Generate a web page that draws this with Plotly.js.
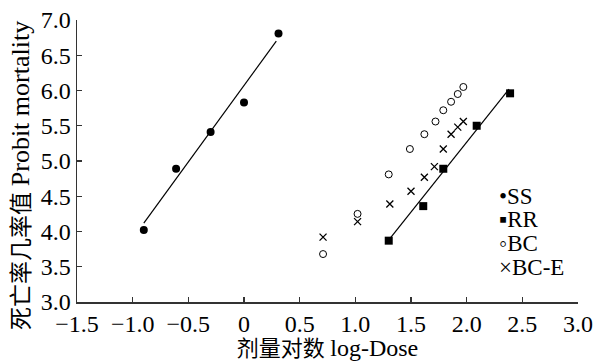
<!DOCTYPE html>
<html><head><meta charset="utf-8">
<script src="https://cdn.plot.ly/plotly-3.0.1.min.js"></script>
<style>html,body{margin:0;padding:0;background:#fff}</style>
</head><body>
<div id="chart" style="width:597px;height:361px"></div>
<script>
const ssX = [-0.9, -0.61, -0.3, 0.0, 0.31];
const ssY = [4.02, 4.89, 5.41, 5.83, 6.81];
const rrX = [1.3, 1.61, 1.79, 2.09, 2.39];
const rrY = [3.87, 4.36, 4.89, 5.50, 5.96];
const bcX = [0.71, 1.02, 1.30, 1.49, 1.62, 1.72, 1.79, 1.86, 1.92, 1.97];
const bcY = [3.68, 4.25, 4.81, 5.17, 5.38, 5.56, 5.72, 5.84, 5.95, 6.05];
const bceX = [0.71, 1.02, 1.31, 1.50, 1.62, 1.71, 1.79, 1.86, 1.92, 1.97];
const bceY = [3.92, 4.14, 4.39, 4.57, 4.77, 4.92, 5.17, 5.38, 5.48, 5.56];
const ssFitX = [-0.9, 0.29];
const ssFitY = [4.12, 6.70];
const rrFitX = [1.31, 2.38];
const rrFitY = [3.90, 6.02];
const xTicks = [-1.5, -1.0, -0.5, 0, 0.5, 1.0, 1.5, 2.0, 2.5, 3.0];
const xTickText = ['−1.5', '−1.0', '−0.5', '0', '0.5', '1.0', '1.5', '2.0', '2.5', '3.0'];
const yTicks = [3.0, 3.5, 4.0, 4.5, 5.0, 5.5, 6.0, 6.5, 7.0];
const yTickText = ['3.0', '3.5', '4.0', '4.5', '5.0', '5.5', '6.0', '6.5', '7.0'];
const legendNames = ['SS', 'RR', 'BC', 'BC-E'];
const legendGlyphs = ['•', '▪', '◦', '×'];
const xTitleCn = '剂量对数', xTitleEn = 'log-Dose';
const yTitleCn = '死亡率几率值', yTitleEn = 'Probit mortality';

const font = 'Liberation Serif, Times New Roman, Noto Sans CJK SC, serif';
const traces = [
  {x: ssFitX, y: ssFitY, mode: 'lines', line: {color: '#000', width: 1.2}, showlegend: false},
  {x: rrFitX, y: rrFitY, mode: 'lines', line: {color: '#000', width: 1.2}, showlegend: false},
  {x: ssX, y: ssY, mode: 'markers', name: 'SS', marker: {symbol: 'circle', size: 8, color: '#000'}},
  {x: rrX, y: rrY, mode: 'markers', name: 'RR', marker: {symbol: 'square', size: 8, color: '#000'}},
  {x: bcX, y: bcY, mode: 'markers', name: 'BC', marker: {symbol: 'circle-open', size: 7, color: '#000', line: {width: 1}}},
  {x: bceX, y: bceY, mode: 'markers', name: 'BC-E', marker: {symbol: 'x-thin-open', size: 7, color: '#000', line: {width: 1.3, color: '#000'}}}
];
const annotations = legendNames.map((n, i) => ({
  xref: 'paper', yref: 'paper', x: 0.838, y: 0.375 - i * 0.084,
  xanchor: 'left', yanchor: 'middle', showarrow: false,
  text: legendGlyphs[i] + n,
  font: {family: font, size: 23, color: '#000'}
}));
annotations.push({
  xref: 'paper', yref: 'paper', x: -0.114, y: 0.45, xanchor: 'center', yanchor: 'middle',
  textangle: -90, showarrow: false,
  text: yTitleCn + ' <span style="font-size:26px">' + yTitleEn + '</span>',
  font: {family: font, size: 23, color: '#000'}
});
const layout = {
  width: 597, height: 361,
  margin: {l: 77, r: 19, t: 20, b: 59},
  paper_bgcolor: '#fff', plot_bgcolor: '#fff',
  font: {family: font, size: 23, color: '#000'},
  showlegend: false,
  annotations: annotations,
  xaxis: {range: [-1.5, 3.0], tickvals: xTicks, ticktext: xTickText, ticks: 'inside', ticklen: 5,
          tickwidth: 1.3, tickcolor: '#333', showline: true, linecolor: '#333', linewidth: 1.5,
          showgrid: false, zeroline: false, tickfont: {size: 24, color: '#000'},
          title: {text: xTitleCn + ' <span style="font-size:24px">' + xTitleEn + '</span>', font: {size: 22, color: '#000'}, standoff: 0}},
  yaxis: {range: [3.0, 7.0], tickvals: yTicks, ticktext: yTickText, ticks: 'inside', ticklen: 5,
          tickwidth: 1.3, tickcolor: '#333', showline: true, linecolor: '#333', linewidth: 1.5,
          showgrid: false, zeroline: false, tickfont: {size: 24, color: '#000'}}
};
Plotly.newPlot('chart', traces, layout, {displayModeBar: false, staticPlot: true});
</script>
</body></html>
